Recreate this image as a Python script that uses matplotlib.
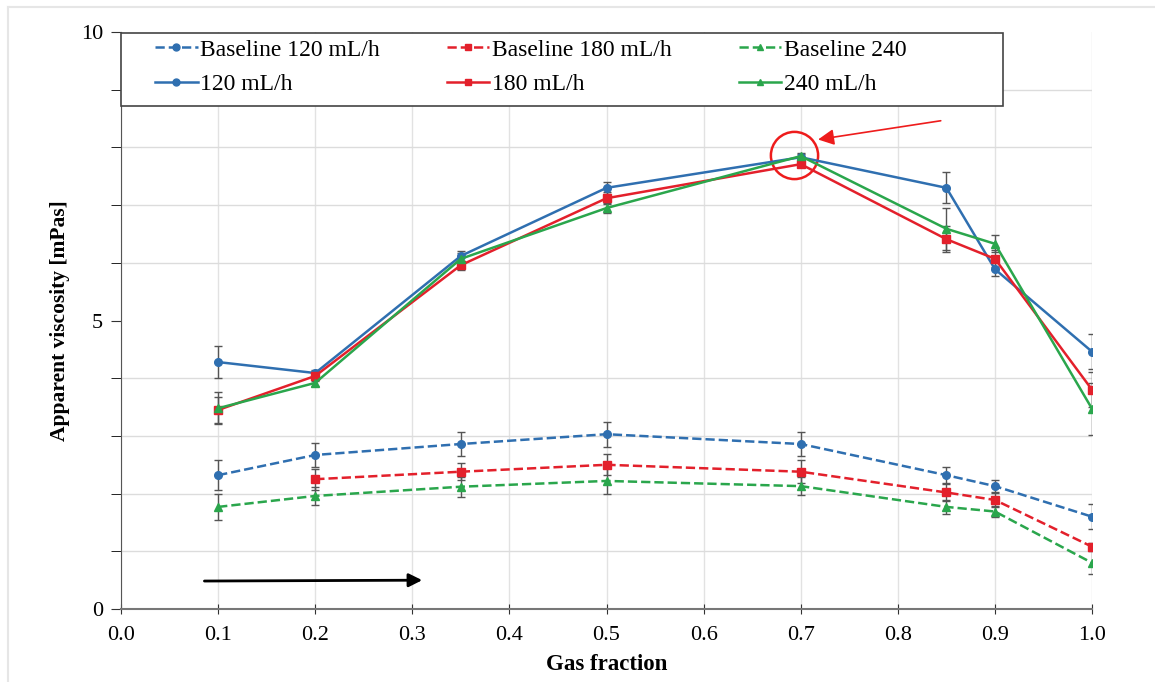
import matplotlib.pyplot as plt
from matplotlib.lines import Line2D
from matplotlib.patches import Rectangle

plt.rcParams['font.family'] = ['Liberation Serif', 'DejaVu Serif']

gas = [0.1, 0.2, 0.35, 0.5, 0.7, 0.85, 0.9, 1.0]
gas_b180 = [0.2, 0.35, 0.5, 0.7, 0.85, 0.9, 1.0]

v120 = [4.28, 4.09, 6.12, 7.30, 7.83, 7.30, 5.89, 4.46]
v180 = [3.45, 4.04, 5.96, 7.12, 7.71, 6.41, 6.07, 3.80]
v240 = [3.48, 3.92, 6.07, 6.95, 7.85, 6.59, 6.33, 3.47]
e120 = [0.28, 0.06, 0.08, 0.10, 0.05, 0.27, 0.12, 0.30]
e180 = [0.22, 0.08, 0.08, 0.10, 0.05, 0.22, 0.15, 0.30]
e240 = [0.28, 0.06, 0.10, 0.08, 0.05, 0.36, 0.15, 0.45]

b120 = [2.32, 2.67, 2.86, 3.03, 2.86, 2.32, 2.13, 1.60]
b180 = [2.25, 2.38, 2.50, 2.38, 2.02, 1.89, 1.08]
b240 = [1.77, 1.96, 2.12, 2.22, 2.13, 1.77, 1.69, 0.80]
eb120 = [0.26, 0.20, 0.20, 0.22, 0.20, 0.14, 0.10, 0.22]
eb180 = [0.18, 0.15, 0.18, 0.20, 0.15, 0.12, 0.06]
eb240 = [0.22, 0.15, 0.17, 0.22, 0.15, 0.12, 0.10, 0.20]

blue = '#2f6fb0'
red = '#e3202b'
green = '#2aa64c'

fig = plt.figure(figsize=(11.55, 6.82), dpi=100)
ax = fig.add_axes([0.1048, 0.107, 0.8407, 0.846])

err = dict(ecolor='#555555', elinewidth=1, capsize=3, capthick=1, ms=5.5, lw=1.8)
ax.errorbar(gas, b120, yerr=eb120, color=blue, ls='--', marker='o', **err)
ax.errorbar(gas_b180, b180, yerr=eb180, color=red, ls='--', marker='s', **err)
ax.errorbar(gas, b240, yerr=eb240, color=green, ls='--', marker='^', **err)
ax.errorbar(gas, v120, yerr=e120, color=blue, ls='-', marker='o', **err)
ax.errorbar(gas, v180, yerr=e180, color=red, ls='-', marker='s', **err)
ax.errorbar(gas, v240, yerr=e240, color=green, ls='-', marker='^', **err)

ax.set_xlim(0, 1.0)
ax.set_ylim(0, 10)
ax.set_xticks([i / 10 for i in range(11)])
ax.set_xticklabels([f'{i / 10:.1f}' for i in range(11)])
ax.set_yticks([0, 5, 10])
ax.set_yticks(range(11), minor=True)
ax.tick_params(axis='both', labelsize=16, colors='#333333')
ax.tick_params(axis='y', which='both', length=7, direction='out', pad=6)
ax.tick_params(axis='x', length=7, direction='inout', pad=9)
for lbl in ax.get_xticklabels() + ax.get_yticklabels():
    lbl.set_color('black')
ax.grid(True, which='major', axis='x', color='#e2e2e2', lw=1)
ax.grid(True, which='minor', axis='y', color='#dcdcdc', lw=1)
ax.spines['top'].set_visible(False)
ax.spines['right'].set_visible(False)
ax.spines['left'].set_color('#555555')
ax.spines['bottom'].set_color('#777777')
ax.spines['bottom'].set_linewidth(1.5)

ax.set_xlabel('Gas fraction', fontsize=16.5, fontweight='bold', labelpad=6)
ax.set_ylabel('Apparent viscosity [mPas]', fontsize=15.5, fontweight='bold', labelpad=8)

def h(c, ls, m):
    return Line2D([], [], color=c, ls=ls, marker=m, ms=5, lw=1.8)

handles = [h(blue, '--', 'o'), h(blue, '-', 'o'),
           h(red, '--', 's'), h(red, '-', 's'),
           h(green, '--', '^'), h(green, '-', '^')]
labels = ['Baseline 120 mL/h', '120 mL/h',
          'Baseline 180 mL/h', '180 mL/h',
          'Baseline 240', '240 mL/h']
ax.add_patch(Rectangle((0, 0.8718), 0.908, 0.1262, transform=ax.transAxes,
                       fill=True, facecolor='white', edgecolor='#444444',
                       lw=1.2, zorder=4, clip_on=False))
leg = ax.legend(handles, labels, ncol=3, loc='upper left',
                bbox_to_anchor=(34 / 971, 0.988),
                fontsize=17, frameon=False,
                handlelength=1.8, handletextpad=0.1, borderpad=0,
                labelspacing=0.55, columnspacing=2.85, borderaxespad=0)
leg.set_zorder(5)

# annotations
ax.annotate('', xy=(0.715, 8.13), xytext=(0.847, 8.47),
            arrowprops=dict(arrowstyle='-|>', color='#ee1c1c', lw=1.2,
                            mutation_scale=24))
ax.plot([0.693], [7.87], marker='o', ms=34, mfc='none', mec='#ee1c1c', mew=1.8)
ax.annotate('', xy=(0.313, 0.50), xytext=(0.083, 0.485),
            arrowprops=dict(arrowstyle='-|>', color='black', lw=2,
                            mutation_scale=20))

# outer frame
fig.add_artist(Line2D([8 / 1155, 8 / 1155], [0, 1 - 7 / 682], color='#e6e6e6', lw=1.5))
fig.add_artist(Line2D([8 / 1155, 1], [1 - 7 / 682, 1 - 7 / 682], color='#e6e6e6', lw=1.5))

fig.savefig('out.png', dpi=100)
